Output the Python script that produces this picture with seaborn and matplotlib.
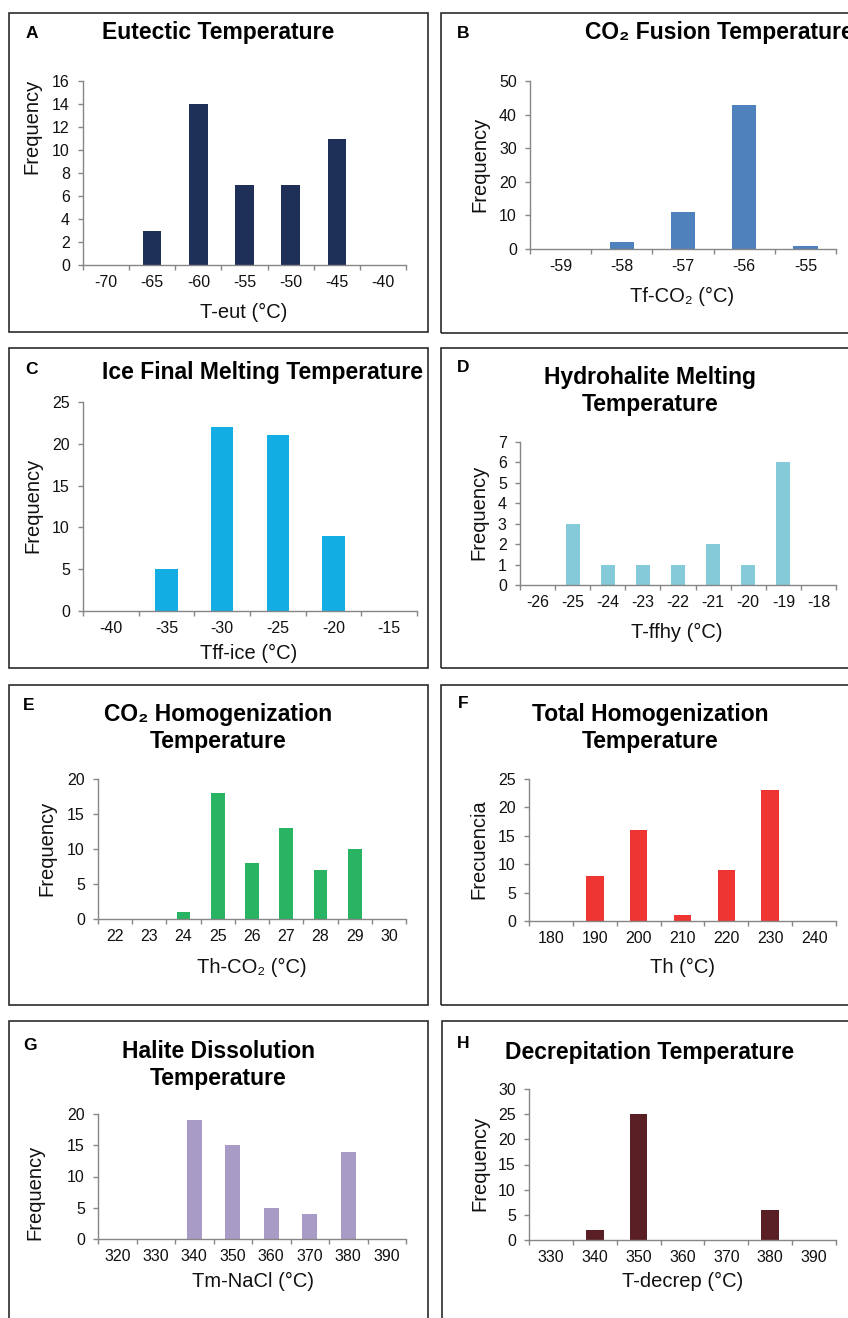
import matplotlib
matplotlib.use("Agg")
import matplotlib.pyplot as plt
from matplotlib.patches import Rectangle
from matplotlib.ticker import FixedLocator
import seaborn as sns
import pandas as pd

sns.set_style("white")
plt.rcParams["font.family"] = ["Liberation Sans", "DejaVu Sans"]

W, H = 848, 1318

# Histogram classes (°C) and frequencies for each microthermometric measurement
eutectic_bins = ["-70", "-65", "-60", "-55", "-50", "-45", "-40"]
eutectic_freq = [0, 3, 14, 7, 7, 11, 0]

co2_fusion_bins = ["-59", "-58", "-57", "-56", "-55"]
co2_fusion_freq = [0, 2, 11, 43, 1]

ice_melt_bins = ["-40", "-35", "-30", "-25", "-20", "-15"]
ice_melt_freq = [0, 5, 22, 21, 9, 0]

hydrohalite_bins = ["-26", "-25", "-24", "-23", "-22", "-21", "-20", "-19", "-18"]
hydrohalite_freq = [0, 3, 1, 1, 1, 2, 1, 6, 0]

co2_homog_bins = ["22", "23", "24", "25", "26", "27", "28", "29", "30"]
co2_homog_freq = [0, 0, 1, 18, 8, 13, 7, 10, 0]

total_homog_bins = ["180", "190", "200", "210", "220", "230", "240"]
total_homog_freq = [0, 8, 16, 1, 9, 23, 0]

halite_bins = ["320", "330", "340", "350", "360", "370", "380", "390"]
halite_freq = [0, 0, 19, 15, 5, 4, 14, 0]

decrep_bins = ["330", "340", "350", "360", "370", "380", "390"]
decrep_freq = [0, 2, 25, 0, 0, 6, 0]

panels = [
    dict(letter="A", letter_xy=(32, 33), title="Eutectic Temperature", title_xy=(218, 33), title_ha="center",
         xlabel="T-eut (°C)", xlabel_xy=(244, 312), ylabel="Frequency", ylabel_xy=(32, 126),
         bins=eutectic_bins, freq=eutectic_freq, color="#1F3058", ymax=16, ystep=2,
         ax_px=(83, 81, 406, 265), box_px=(9, 13, 428, 332)),
    dict(letter="B", letter_xy=(463, 33), title="CO₂ Fusion Temperature", title_xy=(585, 33), title_ha="left",
         xlabel="Tf-CO₂ (°C)", xlabel_xy=(682, 296), ylabel="Frequency", ylabel_xy=(480, 164),
         bins=co2_fusion_bins, freq=co2_fusion_freq, color="#4F81BD", ymax=50, ystep=10,
         ax_px=(530, 81, 836, 249), box_px=(441, 13, 880, 333)),
    dict(letter="C", letter_xy=(32, 369), title="Ice Final Melting Temperature", title_xy=(262, 372), title_ha="center",
         xlabel="Tff-ice (°C)", xlabel_xy=(249, 653), ylabel="Frequency", ylabel_xy=(33, 505),
         bins=ice_melt_bins, freq=ice_melt_freq, color="#12AEE3", ymax=25, ystep=5,
         ax_px=(83, 402, 417, 611), box_px=(9, 348, 428, 668)),
    dict(letter="D", letter_xy=(463, 367), title="Hydrohalite Melting\nTemperature", title_xy=(650, 391), title_ha="center",
         xlabel="T-ffhy (°C)", xlabel_xy=(677, 632), ylabel="Frequency", ylabel_xy=(479, 512),
         bins=hydrohalite_bins, freq=hydrohalite_freq, color="#84CAD8", ymax=7, ystep=1,
         ax_px=(520, 442, 836, 585), box_px=(441, 348, 880, 668)),
    dict(letter="E", letter_xy=(29, 705), title="CO₂ Homogenization\nTemperature", title_xy=(218, 728), title_ha="center",
         xlabel="Th-CO₂ (°C)", xlabel_xy=(252, 967), ylabel="Frequency", ylabel_xy=(47, 848),
         bins=co2_homog_bins, freq=co2_homog_freq, color="#28B463", ymax=20, ystep=5,
         ax_px=(98, 779, 406, 919), box_px=(9, 685, 428, 1005)),
    dict(letter="F", letter_xy=(463, 704), title="Total Homogenization\nTemperature", title_xy=(650, 728), title_ha="center",
         xlabel="Th (°C)", xlabel_xy=(682, 967), ylabel="Frecuencia", ylabel_xy=(479, 849),
         bins=total_homog_bins, freq=total_homog_freq, color="#EE3531", ymax=25, ystep=5,
         ax_px=(529, 779, 836, 921), box_px=(441, 685, 880, 1005)),
    dict(letter="G", letter_xy=(30, 1045), title="Halite Dissolution\nTemperature", title_xy=(218, 1065), title_ha="center",
         xlabel="Tm-NaCl (°C)", xlabel_xy=(253, 1281), ylabel="Frequency", ylabel_xy=(35, 1192),
         bins=halite_bins, freq=halite_freq, color="#A89BC5", ymax=20, ystep=5,
         ax_px=(98, 1114, 406, 1239), box_px=(9, 1021, 428, 1340)),
    dict(letter="H", letter_xy=(463, 1043), title="Decrepitation Temperature", title_xy=(650, 1053), title_ha="center",
         xlabel="T-decrep (°C)", xlabel_xy=(683, 1281), ylabel="Frequency", ylabel_xy=(480, 1163),
         bins=decrep_bins, freq=decrep_freq, color="#5A1F24", ymax=30, ystep=5,
         ax_px=(529, 1089, 836, 1240), box_px=(442, 1021, 880, 1340)),
]

fig = plt.figure(figsize=(W / 100, H / 100), dpi=100)
fig.patch.set_facecolor("white")


def fx(x):
    return x / W


def fy(y):
    return 1 - y / H


axis_grey = "#868686"
text_col = "#111111"

for p in panels:
    x0, y0, x1, y1 = p["box_px"]
    fig.patches.append(Rectangle((fx(x0), fy(y1)), fx(x1) - fx(x0), fy(y0) - fy(y1),
                                 transform=fig.transFigure, fill=False,
                                 edgecolor="#2b2b2b", linewidth=1.2, zorder=0))

    l, t, r, b = p["ax_px"]
    ax = fig.add_axes([fx(l), fy(b), fx(r) - fx(l), fy(t) - fy(b)])
    df = pd.DataFrame({"bin": p["bins"], "freq": p["freq"]})
    sns.barplot(data=df, x="bin", y="freq", order=p["bins"], color=p["color"],
                saturation=1, width=0.4, linewidth=0, ax=ax)
    n = len(p["bins"])
    ax.set_xlim(-0.5, n - 0.5)
    ax.set_ylim(0, p["ymax"])
    ax.set_yticks(range(0, p["ymax"] + 1, p["ystep"]))
    ax.xaxis.set_minor_locator(FixedLocator([i - 0.5 for i in range(n + 1)]))

    for side in ("top", "right"):
        ax.spines[side].set_visible(False)
    for side in ("left", "bottom"):
        ax.spines[side].set_color(axis_grey)
        ax.spines[side].set_linewidth(1.0)

    ax.tick_params(axis="x", which="major", length=0, pad=7.5, labelsize=11.5, labelcolor=text_col)
    ax.tick_params(axis="x", which="minor", length=3.5, width=1.0, color=axis_grey, direction="out", bottom=True)
    ax.tick_params(axis="y", which="major", length=3.5, width=1.0, color=axis_grey, direction="out",
                   pad=6, labelsize=11.5, labelcolor=text_col, left=True)

    ax.set_xlabel(p["xlabel"], fontsize=14.5, color=text_col, va="center")
    ax.set_ylabel(p["ylabel"], fontsize=14.5, color=text_col, va="center")
    ax.xaxis.set_label_coords((p["xlabel_xy"][0] - l) / (r - l), (b - p["xlabel_xy"][1]) / (b - t))
    ax.yaxis.set_label_coords((p["ylabel_xy"][0] - l) / (r - l), (b - p["ylabel_xy"][1]) / (b - t))

    fig.text(fx(p["letter_xy"][0]), fy(p["letter_xy"][1]), p["letter"], fontsize=12.5,
             fontweight="bold", ha="center", va="center", color="black")
    fig.text(fx(p["title_xy"][0]), fy(p["title_xy"][1]), p["title"], fontsize=16.5,
             fontweight="bold", ha=p["title_ha"], va="center", color="black",
             linespacing=1.18, multialignment="center")

fig.savefig("out.png", dpi=100, facecolor="white")
